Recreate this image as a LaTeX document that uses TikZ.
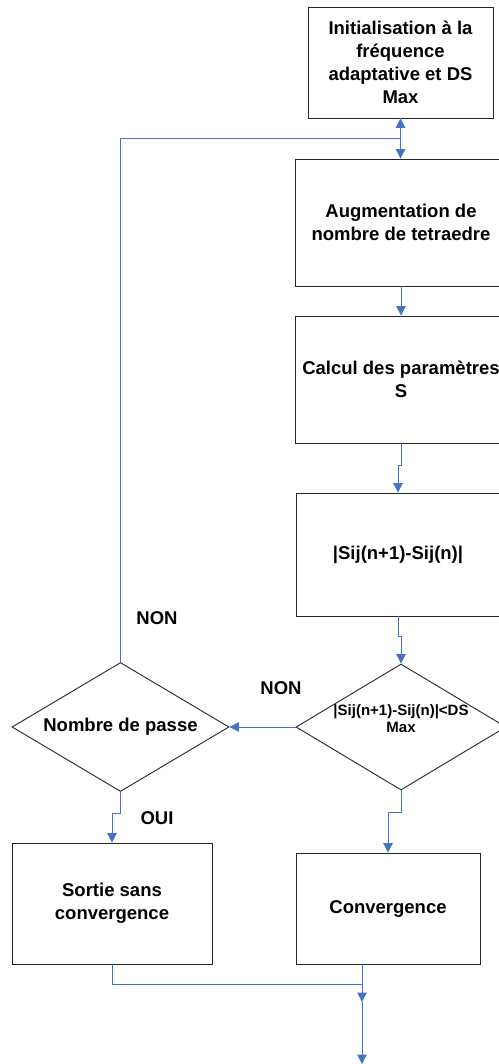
\documentclass[tikz,border=0pt]{standalone}
\usepackage{fontspec}
\setmainfont{Liberation Sans}
\usetikzlibrary{shapes.geometric,arrows.meta}
\definecolor{connblue}{HTML}{4472C4}
\begin{document}
\begin{tikzpicture}[x=1pt,y=-1pt,
  box/.style={draw=black!85,line width=0.9pt,rectangle,inner sep=0pt,align=center,
    font=\fontsize{18.5}{23}\selectfont\bfseries},
  dia/.style={draw=black!85,line width=0.9pt,diamond,inner sep=0pt,align=center,aspect=1.67},
  link/.style={draw=connblue,line width=1pt},
  arr/.style={link,-{Triangle[width=9.5pt,length=9.5pt]}},
  lbl/.style={font=\fontsize{18.5}{23}\selectfont\bfseries,inner sep=0pt}]
\useasboundingbox (0,0) rectangle (498,1064);
% boxes
\node[box,minimum width=185pt,minimum height=111pt] (init) at (400.5,62.5)
  {Initialisation à la\\fréquence\\adaptative et DS\\Max};
\node[box,minimum width=212pt,minimum height=127pt] (augm) at (401,222.5)
  {Augmentation de\\nombre de tetraedre};
\node[box,minimum width=212pt,minimum height=127pt] (calc) at (401,379.5)
  {Calcul des paramètres\\S};
\node[box,minimum width=204pt,minimum height=123pt] (diff) at (398,554.5)
  {|Sij(n+1)-Sij(n)|};
\node[dia,minimum width=210pt,minimum height=126pt] (test) at (401,727) {};
\node[inner sep=0pt,align=center,font=\fontsize{15}{17}\selectfont\bfseries] (testtxt) at (401,719)
  {|Sij(n+1)-Sij(n)|<DS\\Max};
\node[dia,minimum width=217pt,minimum height=129pt,font=\fontsize{18.5}{23}\selectfont\bfseries] (passe) at (120.5,727)
  {Nombre de passe};
\node[box,minimum width=200pt,minimum height=121pt] (sortie) at (112,903.5)
  {Sortie sans\\convergence};
\node[box,minimum width=184pt,minimum height=111pt] (conv) at (388,908.5)
  {Convergence};
% labels
\node[lbl] (non1) at (157,618) {NON};
\node[lbl] (non2) at (281,688) {NON};
\node[lbl] (oui) at (157,818) {OUI};
% junction coordinates
\coordinate (loopj) at (400.5,139);
\coordinate (merge) at (362,984);
\coordinate (mid) at (362,1002);
\coordinate (outc) at (362,1064);
% connectors
\draw[arr] (passe.north) |- (loopj) -- (init.south);
\draw[arr] (init.south) -- (init.south |- augm.north);
\draw[arr] (augm.south) -- (augm.south |- calc.north);
\draw[arr] (calc.south) -- ++(0,22) -| (diff.north);
\draw[arr] (diff.south) -- ++(0,20) -| (test.north);
\draw[arr] (test.west) -- (passe.east);
\draw[arr] (passe.south) -- ++(0,22) -| (sortie.north);
\draw[arr] (test.south) -- ++(0,22) -| (conv.north);
\draw[link] (sortie.south) |- (merge);
\draw[arr] (conv.south -| merge) -- (mid);
\draw[arr] (mid) -- (outc);
\end{tikzpicture}
\end{document}
